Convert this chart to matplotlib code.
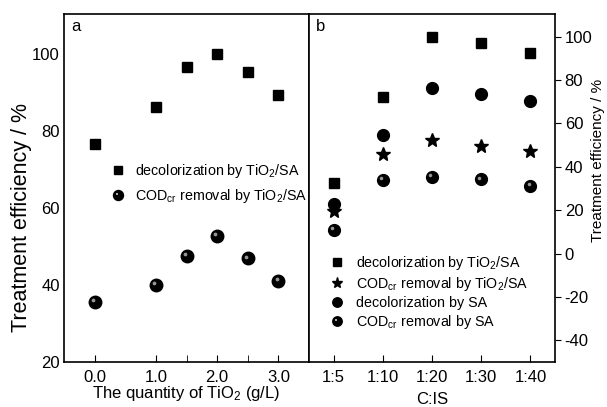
import matplotlib.pyplot as plt
from matplotlib.transforms import offset_copy
from matplotlib.legend_handler import HandlerTuple

plt.rcParams['font.family'] = ['Liberation Sans', 'DejaVu Sans']
plt.rcParams['mathtext.fontset'] = 'custom'
plt.rcParams['mathtext.rm'] = 'Liberation Sans'
plt.rcParams['mathtext.it'] = 'Liberation Sans'
plt.rcParams['axes.unicode_minus'] = False

# panel a data
tio2_dose = [0.0, 1.0, 1.5, 2.0, 2.5, 3.0]
decol_a = [76.6, 86.2, 96.6, 100.1, 95.3, 89.4]
cod_a = [35.6, 40.0, 47.6, 52.7, 46.9, 41.0]

# panel b data
ratio_labels = ['1:5', '1:10', '1:20', '1:30', '1:40']
decol_tio2 = [32.4, 72.0, 100.0, 97.2, 92.3]
cod_tio2 = [19.5, 45.8, 52.6, 49.7, 47.4]
decol_sa = [22.8, 54.8, 76.5, 73.5, 70.5]
cod_sa = [10.8, 34.0, 35.4, 34.2, 31.1]

fig = plt.figure(figsize=(6.07, 4.07), dpi=100)
ax1 = fig.add_axes([64/607, 45/407, 245/607, 348/407])
ax2 = fig.add_axes([309/607, 45/407, 246/607, 348/407])


def sphere(ax, x, y, size=8):
    # black ball with a grey highlight up-left, like the shaded marker
    h1, = ax.plot(x, y, 'o', color='black', markersize=size, linestyle='none')
    tr = offset_copy(ax.transData, fig=fig, x=-1.8, y=1.8, units='dots')
    ax.plot(x, y, 'o', color='#a8a8a8', markersize=size*0.3, linestyle='none',
            transform=tr, markeredgewidth=0, alpha=0.9)
    # legend proxy: highlight drawn off-centre through a small marker path
    h2, = ax.plot([], [], marker=[(-1.3, 1.3), (-0.3, 1.3), (-0.3, 0.3), (-1.3, 0.3)],
                  color='#a8a8a8', markersize=size*0.35, markeredgewidth=0, linestyle='none')
    return (h1, h2)


# ---- panel a
h_sq, = ax1.plot(tio2_dose, decol_a, 's', color='black', markersize=7.5)
h_sp = sphere(ax1, tio2_dose, cod_a, 9)
ax1.set_xlim(-0.5, 3.5)
ax1.set_ylim(20, 110.4)
ax1.set_xticks([0, 1, 2, 3])
ax1.set_xticklabels(['0.0', '1.0', '2.0', '3.0'])
ax1.set_xticks([1.5, 2.5], minor=True)
ax1.set_yticks([20, 40, 60, 80, 100])
ax1.tick_params(axis='x', which='both', direction='in', length=5, labelsize=12, pad=6)
ax1.tick_params(axis='y', length=0, labelsize=12, pad=3)
ax1.set_xlabel('The quantity of TiO$_2$ (g/L)', fontsize=12, labelpad=-1)
ax1.set_ylabel('Treatment efficiency / %', fontsize=15.5)
ax1.yaxis.set_label_coords(-0.13, 0.414)
ax1.text(0.03, 0.985, 'a', transform=ax1.transAxes, fontsize=12, va='top')
ax1.legend([h_sq, h_sp],
           ['decolorization by TiO$_2$/SA', 'COD$_{cr}$ removal by TiO$_2$/SA'],
           handler_map={tuple: HandlerTuple(ndivide=1)},
           loc='upper left', bbox_to_anchor=(0.19, 0.575), frameon=False,
           fontsize=10.3, handlelength=1.0, handletextpad=0.7, labelspacing=0.5,
           markerscale=0.8, borderpad=0, borderaxespad=0)

# ---- panel b
xb = range(len(ratio_labels))
hb1, = ax2.plot(xb, decol_tio2, 's', color='black', markersize=7.5)
hb2, = ax2.plot(xb, cod_tio2, '*', color='black', markersize=10)
hb3, = ax2.plot(xb, decol_sa, 'o', color='black', markersize=8.5)
hb4 = sphere(ax2, xb, cod_sa, 8.5)
ax2.set_xlim(-0.5, 4.5)
ax2.set_ylim(-50, 110.5)
ax2.set_xticks(list(xb))
ax2.set_xticklabels(ratio_labels)
ax2.set_yticks([-40, -20, 0, 20, 40, 60, 80, 100])
ax2.yaxis.tick_right()
ax2.yaxis.set_label_position('right')
ax2.tick_params(axis='x', direction='in', length=5, labelsize=12, pad=6)
ax2.tick_params(axis='y', direction='out', length=4, labelsize=12, pad=3)
ax2.set_xlabel('C:IS', fontsize=12, labelpad=5)
ax2.set_ylabel('Treatment efficiency / %', fontsize=11)
ax2.yaxis.set_label_coords(1.145, 0.58)
ax2.text(0.03, 0.985, 'b', transform=ax2.transAxes, fontsize=12, va='top')
ax2.legend([hb1, hb2, hb3, hb4],
           ['decolorization by TiO$_2$/SA', 'COD$_{cr}$ removal by TiO$_2$/SA',
            'decolorization by SA', 'COD$_{cr}$ removal by SA'],
           handler_map={tuple: HandlerTuple(ndivide=1)},
           loc='upper left', bbox_to_anchor=(0.085, 0.31), frameon=False,
           fontsize=10.3, handlelength=1.0, handletextpad=0.8, labelspacing=0.2,
           markerscale=0.8, borderpad=0, borderaxespad=0)

for ax in (ax1, ax2):
    for s in ax.spines.values():
        s.set_linewidth(1.2)

fig.savefig('out.png', dpi=100)
